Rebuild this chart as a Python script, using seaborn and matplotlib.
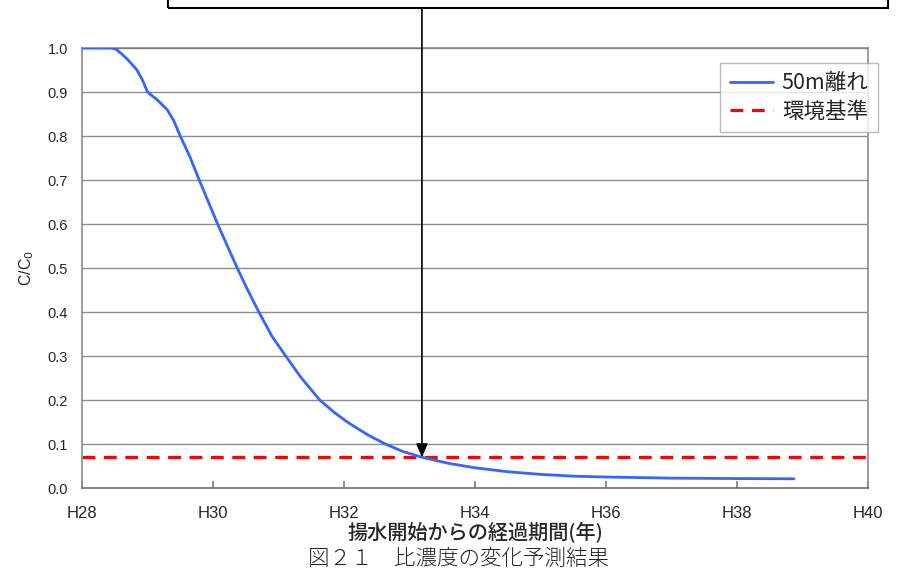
import matplotlib.pyplot as plt
import numpy as np
import pandas as pd
import seaborn as sns
from matplotlib.patches import Rectangle

# 経過年 (H28 = 28) と比濃度 C/C0
years = [28.0, 28.45, 28.52, 28.58, 28.69, 28.84, 28.93, 29.0, 29.15, 29.3,
         29.4, 29.5, 29.65, 29.79, 30.07, 30.37, 30.53, 30.70, 30.9, 31.11,
         31.35, 31.63, 31.85, 32.05, 32.35, 32.63, 32.9, 33.19, 33.6, 34.0,
         34.5, 35.0, 35.5, 36.0, 37.0, 38.0, 38.87]
ratio_50m = [1.0, 1.0, 0.997, 0.99, 0.975, 0.95, 0.925, 0.90, 0.882, 0.86,
             0.835, 0.80, 0.752, 0.70, 0.60, 0.50, 0.45, 0.40, 0.345, 0.30,
             0.25, 0.20, 0.172, 0.15, 0.122, 0.10, 0.083, 0.07, 0.056, 0.046,
             0.037, 0.031, 0.027, 0.025, 0.0225, 0.0215, 0.021]
standard = 0.07
cross_year = 33.19

x_ticks = [28, 30, 32, 34, 36, 38, 40]
x_labels = ["H28", "H30", "H32", "H34", "H36", "H38", "H40"]
y_ticks = np.round(np.arange(0, 1.01, 0.1), 1)

JP = ["Noto Sans CJK JP", "DejaVu Sans"]

sns.set_style("ticks")
plt.rcParams["font.family"] = ["Liberation Sans", "Noto Sans CJK JP"]

df = pd.DataFrame({"year": years, "ratio": ratio_50m})

fig = plt.figure(figsize=(9.11, 5.73), dpi=100)
ax = fig.add_axes([0.090, 0.1483, 0.8628, 0.7679])

for y in y_ticks[1:]:
    ax.axhline(y, color="#8c8c8c", lw=1, zorder=0)
ax.hlines(1.0, 28, cross_year, color="black", lw=1.2, zorder=1)

sns.lineplot(data=df, x="year", y="ratio", ax=ax, color="#3366ff", lw=2,
             label="50m離れ", zorder=3)
ax.axhline(standard, color="#ff0000", lw=2.3, ls=(0, (4, 2.7)),
           label="環境基準", zorder=2)

ax.set_xlim(28, 40)
ax.set_ylim(0, 1.0)
ax.set_xticks(x_ticks)
ax.set_xticklabels(x_labels, fontsize=12)
ax.set_yticks(y_ticks)
ax.set_yticklabels([f"{v:.1f}" for v in y_ticks], fontsize=10.5)
ax.tick_params(axis="x", direction="in", length=5, width=1.1,
               color="#707070", pad=13)
ax.tick_params(axis="y", left=False, length=0, pad=10)
for s in ax.spines.values():
    s.set_color("#8c8c8c")
    s.set_linewidth(1.2)
ax.spines["bottom"].set_color("#707070")

ax.set_xlabel("揚水開始からの経過期間(年)", fontsize=14.5, family=JP,
              fontweight="medium", labelpad=1)
ax.set_ylabel("C/C$_0$", fontsize=11.5, labelpad=8)

leg = ax.legend(loc="upper right", bbox_to_anchor=(1.013, 0.967),
                prop={"family": JP, "size": 15.5}, frameon=True,
                fancybox=False, handlelength=2.0, borderpad=0.45,
                labelspacing=0.3, handletextpad=0.4, borderaxespad=0)
leg.get_frame().set_edgecolor("#aaaaaa")
leg.get_frame().set_linewidth(1)

# 上部の吹き出し枠と矢印
fig.patches.append(Rectangle((168 / 911, 1 - 8 / 573), 720 / 911, 0.05,
                             transform=fig.transFigure, fill=False,
                             edgecolor="black", lw=1.5, clip_on=False))
ax.annotate("", xy=(cross_year, standard), xycoords="data",
            xytext=(cross_year, 1.0 + 40 / 440), textcoords="data",
            arrowprops=dict(arrowstyle="-|>,head_length=0.8,head_width=0.35",
                            color="black", lw=1.2, shrinkA=0, shrinkB=0),
            annotation_clip=False)

fig.text(0.503, 0.024, "図２１　比濃度の変化予測結果", ha="center", va="center",
         fontsize=15.5, family=JP, fontweight="light", color="#222222")

fig.savefig("out.png", dpi=100)
